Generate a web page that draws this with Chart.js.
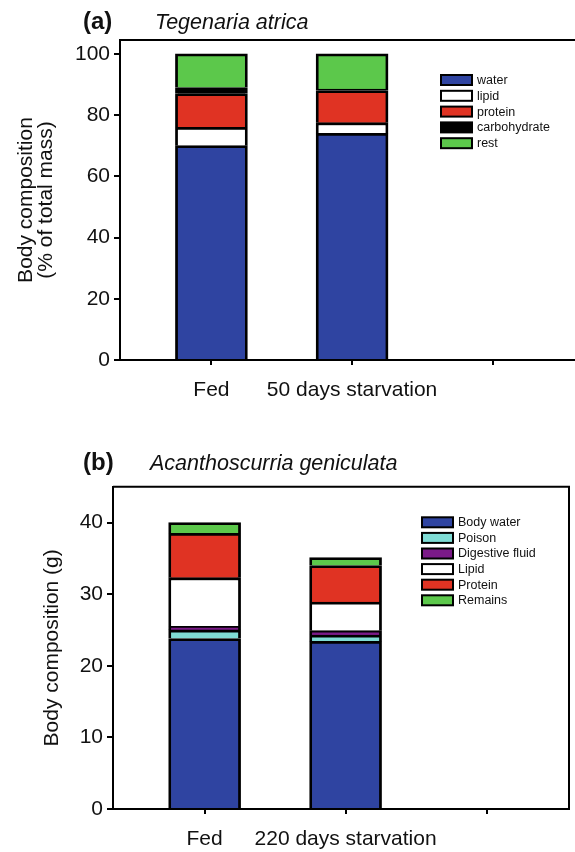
<!DOCTYPE html>
<html>
<head>
<meta charset="utf-8">
<script src="https://cdn.jsdelivr.net/npm/chart.js@4.4.1/dist/chart.umd.min.js"></script>
<style>
  html, body { margin: 0; padding: 0; background: #fff; }
  #wrap { position: relative; width: 575px; height: 852px; }
  canvas { position: absolute; left: 0; }
  #chart-a { top: 0; }
  #chart-b { top: 420px; }
</style>
</head>
<body>
<div id="wrap">
  <canvas id="chart-a" width="575" height="420"></canvas>
  <canvas id="chart-b" width="575" height="432"></canvas>
</div>
<script>
'use strict';

// (a) Tegenaria atrica - % of total mass
let groupsA = ['Fed', '50 days starvation', ''];
let waterA = [70, 74];
let lipidA = [6, 3.5];
let proteinA = [11, 10.5];
let carbA = [2, 0.5];
let restA = [11, 11.5];
let ticksA = [0, 20, 40, 60, 80, 100];

// (b) Acanthoscurria geniculata - grams
let groupsB = ['Fed', '220 days starvation', ''];
let waterB = [23.8, 23.4];
let poisonB = [1.2, 0.9];
let digestiveB = [0.5, 0.6];
let lipidB = [6.8, 4.0];
let proteinB = [6.2, 5.1];
let remainsB = [1.5, 1.1];
let ticksB = [0, 10, 20, 30, 40];

const FONT = "'Liberation Sans', Arial, sans-serif";
Chart.defaults.font.family = FONT; //eslint-disable-line
Chart.defaults.color = '#111'; //eslint-disable-line

function toPoints(values) {
  return values.map((v, i) => ({ x: i + 1, y: v }));
}

function makeSet(label, values, color) {
  return {
    label: label,
    data: toPoints(values),
    backgroundColor: color,
    borderColor: '#000',
    borderWidth: 2.8,
    borderSkipped: 'start',
    barThickness: 72
  };
}

// box round the plot area, legend inside it, panel heading above it
let framePlugin = {
  id: 'frame',
  afterDatasetsDraw(chart, args, opts) {
    let ctx = chart.ctx;
    let a = chart.chartArea;
    ctx.save();
    ctx.strokeStyle = '#000';
    ctx.lineWidth = 2;
    ctx.beginPath();
    ctx.moveTo(a.left, a.top);
    ctx.lineTo(a.right, a.top);
    if (opts.right) {
      ctx.lineTo(a.right, a.bottom);
    }
    ctx.stroke();

    // legend
    let sets = chart.data.datasets;
    ctx.font = '12.5px ' + FONT;
    ctx.textBaseline = 'middle';
    for (let i = 0; i < sets.length; i++) {
      let y = opts.legendY + i * opts.legendStep;
      ctx.fillStyle = sets[i].backgroundColor;
      ctx.fillRect(opts.legendX, y - 5, 31, 10);
      ctx.lineWidth = 2;
      ctx.strokeStyle = '#000';
      ctx.strokeRect(opts.legendX, y - 5, 31, 10);
      ctx.fillStyle = '#111';
      ctx.fillText(sets[i].label, opts.legendX + 36, y + 0.5);
    }

    // heading
    ctx.fillStyle = '#111';
    ctx.font = 'bold 24px ' + FONT;
    ctx.fillText(opts.tag, 83, opts.headY);
    ctx.font = 'italic 21.5px ' + FONT;
    ctx.fillText(opts.name, opts.nameX, opts.headY + 1);
    ctx.restore();
  }
};

function makeOptions(groups, ticks, yMax, yWidth, xHeight, pad, title, titlePad, frame) {
  return {
    responsive: false,
    animation: false,
    layout: { padding: pad },
    plugins: {
      legend: { display: false },
      tooltip: { enabled: false },
      frame: frame
    },
    scales: {
      x: {
        type: 'linear',
        stacked: true,
        offset: false,
        min: 0.35,
        max: 3.585,
        afterBuildTicks: (s) => { s.ticks = [1, 2, 3].map((v) => ({ value: v })); },
        afterFit: (s) => { s.height = xHeight; },
        grid: { offset: false, drawOnChartArea: false, tickLength: 5, tickColor: '#000', lineWidth: 2 },
        border: { display: true, color: '#000', width: 2 },
        ticks: {
          padding: 13,
          autoSkip: false,
          maxRotation: 0,
          font: { size: 21 },
          callback: (v, i) => groups[i]
        }
      },
      y: {
        stacked: true,
        min: 0,
        max: yMax,
        afterBuildTicks: (s) => { s.ticks = ticks.map((v) => ({ value: v })); },
        afterFit: (s) => { s.width = yWidth; },
        grid: { drawOnChartArea: false, tickLength: 6, tickColor: '#000', lineWidth: 2 },
        border: { display: true, color: '#000', width: 2 },
        ticks: { padding: 4, font: { size: 21 } },
        title: {
          display: true,
          text: title,
          font: { size: 21, lineHeight: 0.95 },
          padding: { top: titlePad, bottom: 0 }
        }
      }
    }
  };
}

new Chart(document.getElementById('chart-a'), { //eslint-disable-line
  type: 'bar',
  data: {
    datasets: [
      makeSet('water', waterA, '#2f44a1'),
      makeSet('lipid', lipidA, '#ffffff'),
      makeSet('protein', proteinA, '#e03323'),
      makeSet('carbohydrate', carbA, '#000000'),
      makeSet('rest', restA, '#5cc84b')
    ]
  },
  options: makeOptions(groupsA, ticksA, 104.5, 120, 60,
    { top: 40, right: 0, left: 0, bottom: 0 },
    ['Body composition', '(% of total mass)'], 16,
    { right: false, legendX: 441, legendY: 80, legendStep: 15.8, tag: '(a)', name: 'Tegenaria atrica', nameX: 155, headY: 22 }),
  plugins: [framePlugin]
});

new Chart(document.getElementById('chart-b'), { //eslint-disable-line
  type: 'bar',
  data: {
    datasets: [
      makeSet('Body water', waterB, '#2f44a1'),
      makeSet('Poison', poisonB, '#7fdcd5'),
      makeSet('Digestive fluid', digestiveB, '#7b1a88'),
      makeSet('Lipid', lipidB, '#ffffff'),
      makeSet('Protein', proteinB, '#e03323'),
      makeSet('Remains', remainsB, '#5cc84b')
    ]
  },
  options: makeOptions(groupsB, ticksB, 45, 113, 43,
    { top: 66.7, right: 6, left: 0, bottom: 0 },
    'Body composition (g)', 42,
    { right: true, legendX: 422, legendY: 102.3, legendStep: 15.6, tag: '(b)', name: 'Acanthoscurria geniculata', nameX: 150, headY: 43 }),
  plugins: [framePlugin]
});
</script>
</body>
</html>
